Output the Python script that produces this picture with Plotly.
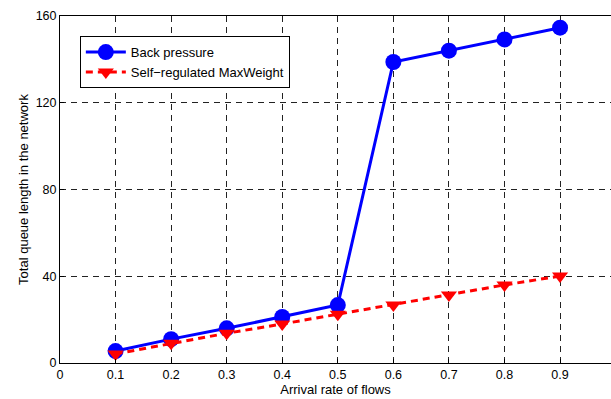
import plotly.graph_objects as go

x_rates = [0.1, 0.2, 0.3, 0.4, 0.5, 0.6, 0.7, 0.8, 0.9]
back_pressure = [5.5, 11, 16, 21.2, 26.7, 138.8, 144, 149.2, 154.6]
self_regulated = [4.2, 9.1, 13.7, 18, 22.5, 26.7, 31.4, 36, 40.1]
x_ticks = [0, 0.1, 0.2, 0.3, 0.4, 0.5, 0.6, 0.7, 0.8, 0.9]
y_ticks = [0, 40, 80, 120, 160]

fig = go.Figure()
fig.add_trace(go.Scatter(
    x=x_rates, y=back_pressure, name="Back pressure", mode="lines+markers",
    line=dict(color="#0000ff", width=3),
    marker=dict(symbol="circle", size=16, color="#0000ff"),
))
fig.add_trace(go.Scatter(
    x=x_rates, y=self_regulated, name="Self\u2212regulated MaxWeight", mode="lines+markers",
    line=dict(color="#ff0000", width=3, dash="7px,5px"),
    marker=dict(symbol="triangle-down", size=14, color="#ff0000"),
))

fig.update_layout(
    width=611, height=399,
    margin=dict(l=60, r=0, t=16, b=36),
    paper_bgcolor="white", plot_bgcolor="white",
    font=dict(family="Liberation Sans, Arial, sans-serif", size=12.5, color="black"),
    showlegend=True,
    legend=dict(
        x=0.036, y=0.942, xanchor="left", yanchor="top",
        bgcolor="white", bordercolor="black", borderwidth=1,
        font=dict(size=13), tracegroupgap=0,
        itemwidth=40,
    ),
    xaxis=dict(
        range=[0, 0.9917], tickvals=x_ticks, ticktext=[str(v) if v else "0" for v in x_ticks],
        showline=True, linecolor="black", linewidth=1, mirror=True,
        showgrid=True, gridcolor="#222222", gridwidth=1, griddash="6px,5px",
        ticks="inside", ticklen=4, tickcolor="black",
        zeroline=False,
        title=dict(text="Arrival rate of flows", standoff=1, font=dict(size=13)),
    ),
    yaxis=dict(
        range=[0, 160], tickvals=y_ticks,
        showline=True, linecolor="black", linewidth=1, mirror=False,
        showgrid=True, gridcolor="#222222", gridwidth=1, griddash="6px,5px",
        ticks="inside", ticklen=4, tickcolor="black",
        zeroline=False,
        title=dict(text="Total queue length in the network", standoff=4, font=dict(size=13)),
    ),
)

fig.write_html("out.html")
